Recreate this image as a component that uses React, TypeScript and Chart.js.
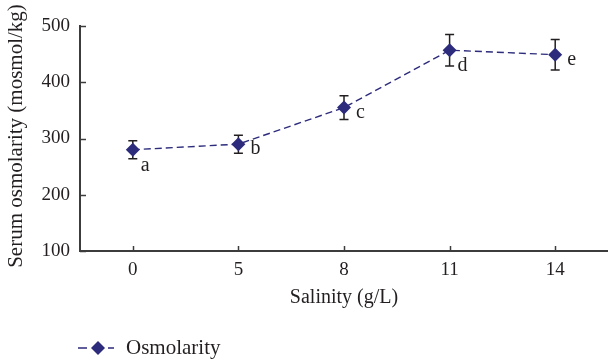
import { useEffect, useRef } from 'react';
import { Chart, registerables } from 'chart.js';

Chart.register(...registerables);

const salinity = ['0', '5', '8', '11', '14'];
const osmolarity = [280, 290, 355, 457, 449];
const errorSizes = [16, 16, 21, 28, 27];
const groupLetters = ['a', 'b', 'c', 'd', 'e'];
const yTickValues = [100, 200, 300, 400, 500];

const xTitle = 'Salinity (g/L)';
const yTitle = 'Serum osmolarity (mosmol/kg)';
const seriesName = 'Osmolarity';

// letter placement styles: 'below' = lower right of marker, 'right' = to the right
const letterPlacement = ['below', 'right', 'right', 'below', 'right'];

const NAVY = '#2c2b7c';
const INK = '#231f20';
const AXIS = '#3c3c3c';
const FONT = '"Liberation Serif", "Times New Roman", serif';

const extrasPlugin = {
  id: 'extras',
  beforeDatasetsDraw(chart: any) {
    const { ctx, scales } = chart;
    const x = scales.x;
    const y = scales.y;
    ctx.save();
    ctx.strokeStyle = INK;
    ctx.lineWidth = 1.5;
    osmolarity.forEach((v, i) => {
      const px = x.getPixelForValue(i);
      const top = y.getPixelForValue(v + errorSizes[i]);
      const bot = y.getPixelForValue(v - errorSizes[i]);
      ctx.beginPath();
      ctx.moveTo(px, top);
      ctx.lineTo(px, bot);
      ctx.moveTo(px - 4.5, top);
      ctx.lineTo(px + 4.5, top);
      ctx.moveTo(px - 4.5, bot);
      ctx.lineTo(px + 4.5, bot);
      ctx.stroke();
    });
    ctx.restore();
  },
  afterDraw(chart: any) {
    const { ctx, scales, chartArea } = chart;
    const x = scales.x;
    const y = scales.y;
    ctx.save();
    // inward tick marks
    ctx.strokeStyle = AXIS;
    ctx.lineWidth = 1.5;
    yTickValues.forEach((t) => {
      const py = Math.round(y.getPixelForValue(t)) + 0.5;
      ctx.beginPath();
      ctx.moveTo(chartArea.left, py);
      ctx.lineTo(chartArea.left + 6, py);
      ctx.stroke();
    });
    salinity.forEach((_, i) => {
      const px = Math.round(x.getPixelForValue(i)) + 0.5;
      ctx.beginPath();
      ctx.moveTo(px, chartArea.bottom);
      ctx.lineTo(px, chartArea.bottom - 5);
      ctx.stroke();
    });

    // group letters
    ctx.fillStyle = INK;
    ctx.font = `20px ${FONT}`;
    ctx.textAlign = 'left';
    ctx.textBaseline = 'middle';
    osmolarity.forEach((v, i) => {
      const px = x.getPixelForValue(i);
      const py = y.getPixelForValue(v);
      if (letterPlacement[i] === 'below') {
        ctx.fillText(groupLetters[i], px + 8, py + 16);
      } else {
        ctx.fillText(groupLetters[i], px + 12, py + 5);
      }
    });

    // axis titles
    ctx.font = `20px ${FONT}`;
    ctx.textAlign = 'center';
    ctx.textBaseline = 'middle';
    ctx.fillText(xTitle, (chartArea.left + chartArea.right) / 2, 298);
    ctx.save();
    ctx.font = `21px ${FONT}`;
    ctx.translate(16, 136);
    ctx.rotate(-Math.PI / 2);
    ctx.fillText(yTitle, 0, 0);
    ctx.restore();

    // legend
    const ly = 348;
    ctx.strokeStyle = NAVY;
    ctx.lineWidth = 1.5;
    ctx.beginPath();
    ctx.moveTo(78, ly);
    ctx.lineTo(87, ly);
    ctx.moveTo(108, ly);
    ctx.lineTo(114, ly);
    ctx.stroke();
    ctx.fillStyle = NAVY;
    ctx.beginPath();
    ctx.moveTo(98, ly - 7);
    ctx.lineTo(105, ly);
    ctx.lineTo(98, ly + 7);
    ctx.lineTo(91, ly);
    ctx.closePath();
    ctx.fill();
    ctx.fillStyle = INK;
    ctx.font = `21px ${FONT}`;
    ctx.textAlign = 'left';
    ctx.fillText(seriesName, 126, ly);
    ctx.restore();
  },
};

const zeroPad = (s: any) => {
  s.paddingLeft = 0;
  s.paddingRight = 0;
  s.paddingTop = 0;
  s.paddingBottom = 0;
};

export default function App() {
  const ref = useRef<HTMLCanvasElement | null>(null);
  useEffect(() => {
    if (!ref.current) return;
    const chart = new Chart(ref.current, {
      type: 'line',
      data: {
        labels: salinity,
        datasets: [
          {
            label: seriesName,
            data: osmolarity,
            borderColor: NAVY,
            backgroundColor: NAVY,
            borderWidth: 1.4,
            borderDash: [7, 4],
            tension: 0,
            pointStyle: 'rectRot',
            pointRadius: 7,
            pointBackgroundColor: NAVY,
            pointBorderColor: NAVY,
            pointBorderWidth: 0,
          },
        ],
      },
      options: {
        animation: false,
        responsive: false,
        devicePixelRatio: 1,
        layout: { autoPadding: false, padding: { top: 26, left: 0, right: 0, bottom: 0 } },
        plugins: { legend: { display: false }, tooltip: { enabled: false } },
        scales: {
          x: {
            type: 'category',
            offset: true,
            grid: { display: false, drawTicks: false },
            border: { display: true, color: AXIS, width: 2 },
            ticks: { color: INK, font: { family: FONT, size: 19 }, padding: 8 },
            afterFit: (s: any) => {
              s.height = 113;
              zeroPad(s);
            },
          },
          y: {
            min: 100,
            max: 500,
            grid: { display: false, drawTicks: false },
            border: { display: true, color: AXIS, width: 2 },
            ticks: {
              stepSize: 100,
              color: INK,
              font: { family: FONT, size: 19 },
              padding: 10,
            },
            afterFit: (s: any) => {
              s.width = 80;
              zeroPad(s);
            },
          },
        },
      },
      plugins: [extrasPlugin],
    } as any);
    return () => chart.destroy();
  }, []);
  return (
    <div style={{ position: 'absolute', left: 0, top: 0, width: 608, height: 364, background: '#fff' }}>
      <canvas ref={ref} width={608} height={364} />
    </div>
  );
}
